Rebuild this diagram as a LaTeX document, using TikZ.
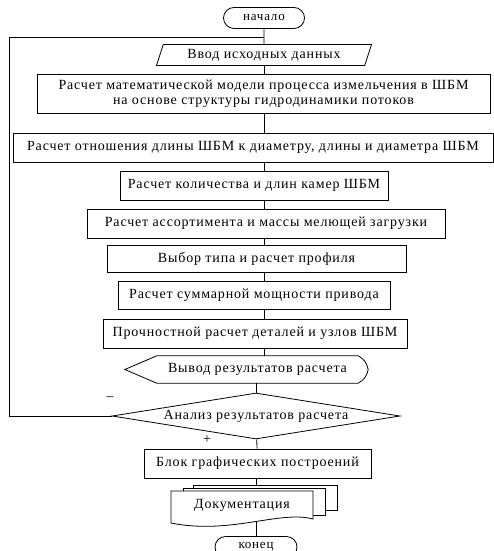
\documentclass[tikz,border=0pt]{standalone}
\usepackage{fontspec}
\setmainfont{Liberation Serif}[LetterSpace=6]
\usetikzlibrary{shapes.geometric,shapes.misc,calc}

\tikzset{
  liniya/.style={line width=0.8pt},
  blok/.style={draw, liniya, rectangle, inner sep=1pt, minimum height=29pt,
    align=center, font=\fontsize{14}{14.5}\selectfont},
  termblok/.style={draw, liniya, rounded rectangle, minimum width=83pt,
    minimum height=21pt, inner sep=1pt, font=\fontsize{13}{14}\selectfont},
  vvodblok/.style={draw, liniya, trapezium, trapezium left angle=64,
    trapezium right angle=116, trapezium stretches body, minimum width=215pt,
    minimum height=21pt, inner sep=1pt, font=\fontsize{14}{14.5}\selectfont},
  uslblok/.style={draw, liniya, diamond, aspect=6.2, inner sep=0pt,
    minimum width=288pt, minimum height=46pt, font=\fontsize{14}{14.5}\selectfont},
  tekst/.style={inner sep=1pt, font=\fontsize{14}{14.5}\selectfont}
}

\begin{document}
\begin{tikzpicture}[x=1pt, y=-1pt]
  \clip (0,0) rectangle (494,551);

  \coordinate (os) at (264,0);
  \coordinate (os2) at (256,0);

  \node[termblok] (nach) at (264,18) {начало};
  \node[vvodblok] (vvod) at (264,55) {Ввод исходных данных};
  \node[blok, minimum width=453pt, minimum height=39pt] (b1) at (263.5,93.5)
    {Расчет математической модели процесса измельчения в ШБМ\\
     на основе структуры гидродинамики потоков};
  \node[blok, minimum width=480pt] (b2) at (253,147.5)
    {Расчет отношения длины ШБМ к диаметру, длины и диаметра ШБМ};
  \node[blok, minimum width=268pt] (b3) at (254,185.5)
    {Расчет количества и длин камер ШБМ};
  \node[blok, minimum width=358pt] (b4) at (266,223.5)
    {Расчет ассортимента и массы мелющей загрузки};
  \node[blok, minimum width=299pt, minimum height=27pt] (b5) at (256.5,258.5)
    {Выбор типа и расчет профиля};
  \node[blok, minimum width=272pt, minimum height=28pt] (b6) at (254,295)
    {Расчет суммарной мощности привода};
  \node[blok, minimum width=304pt] (b7) at (255,333.5)
    {Прочностной расчет деталей и узлов ШБМ};

  % vyvod rezultatov
  \node[tekst, minimum width=201pt, minimum height=27pt] (vyvod) at (257.5,369.5)
    {Вывод результатов расчета};
  \draw[liniya] (vyvod.south west) -- ($(vyvod.west)+(-32,0)$) -- (vyvod.north west)
    -- (vyvod.north east) to[bend left=25] ($(vyvod.east)+(10,0)$)
    to[bend left=25] (vyvod.south east) -- cycle;

  \node[uslblok] (anal) at (256,416) {Анализ результатов расчета};
  \node[blok, minimum width=227pt] (b8) at (257.5,463.5)
    {Блок графических построений};
  \node[termblok, minimum width=84pt] (kon) at (256,547) {конец};

  \node[tekst] (minus) at (110,399) {--};
  \node[tekst] (plus) at (207,440) {+};

  % svyazi
  \draw[liniya] (nach) -- (vvod);
  \foreach \a/\b in {vvod/b1,b1/b2,b2/b3,b3/b4,b4/b5,b5/b6,b6/b7,b7/vyvod}
    \draw[liniya] (\a.south -| os) -- (\b.north -| os);
  \draw[liniya] (vyvod.south -| os2) -- (anal.north);
  \draw[liniya] (anal) -- (b8);
  \coordinate (vozvrat) at (9,37);
  \draw[liniya] (anal.west) -| (vozvrat) -- (vvod.north |- vozvrat);
  \draw[liniya] (b8.south -| kon) -- (kon.north);

  % dokumenty
  \draw[liniya, fill=white] (193,510) rectangle (337,485);
  \draw[liniya, fill=white] (183,515) rectangle (325,488);
  \draw[liniya, fill=white] (171,491) -- (313,491) -- (313,519)
    .. controls (280,510) and (230,535) .. (171,523) -- cycle;
  \node[tekst] (doc) at (242,505) {Документация};
\end{tikzpicture}
\end{document}
